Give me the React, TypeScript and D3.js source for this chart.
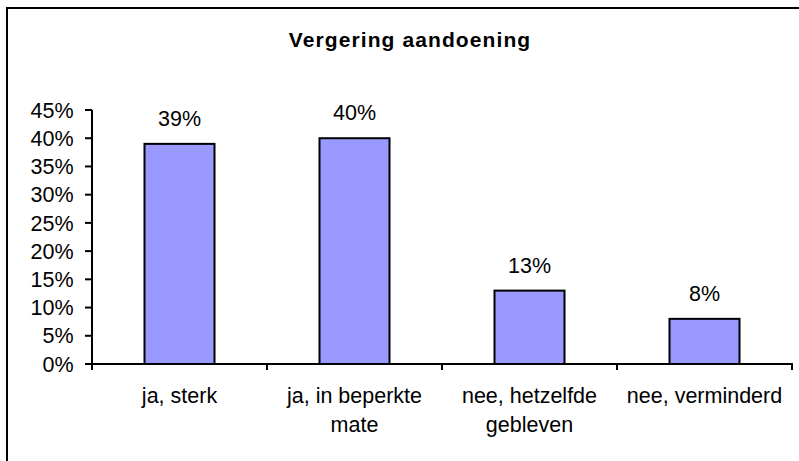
import React from "react";
import * as d3 from "d3";

const title = "Vergering aandoening";
const categories: string[][] = [
  ["ja, sterk"],
  ["ja, in beperkte", "mate"],
  ["nee, hetzelfde", "gebleven"],
  ["nee, verminderd"],
];
const values = [39, 40, 13, 8];
const yTicks = [0, 5, 10, 15, 20, 25, 30, 35, 40, 45];

const W = 799;
const H = 461;
const FONT = "'Liberation Sans', Arial, sans-serif";

export default function App() {
  const x = d3
    .scaleBand<number>()
    .domain(d3.range(categories.length))
    .range([92, 792])
    .paddingInner(0.6)
    .paddingOuter(0.3);
  const band = d3.scaleBand<number>().domain(d3.range(categories.length)).range([92, 792]);
  const y = d3.scaleLinear().domain([0, 45]).range([364, 110]);

  return (
    <svg
      width={W}
      height={H}
      style={{ position: "absolute", left: 0, top: 0, background: "#fff" }}
      fontFamily={FONT}
    >
      <rect x={0} y={0} width={W} height={H} fill="#fff" />
      <rect x={7} y={8} width={800} height={470} fill="none" stroke="#000" strokeWidth={2} />
      <text
        x={410}
        y={47}
        textAnchor="middle"
        fontSize={21}
        fontWeight="bold"
        letterSpacing={1.1}
        fill="#000"
      >
        {title}
      </text>

      {/* y axis */}
      <line x1={92} x2={92} y1={y(45)} y2={y(0)} stroke="#000" strokeWidth={2} />
      {yTicks.map((t) => (
        <g key={t}>
          <line x1={85} x2={92} y1={y(t)} y2={y(t)} stroke="#000" strokeWidth={2} />
          <text x={73.5} y={y(t) + 7.7} textAnchor="end" fontSize={21.5} fill="#000">
            {t}%
          </text>
        </g>
      ))}

      {/* bars */}
      {values.map((v, i) => (
        <g key={i}>
          <rect
            x={x(i)}
            y={y(v)}
            width={x.bandwidth()}
            height={y(0) - y(v)}
            fill="#9999FF"
            stroke="#000"
            strokeWidth={2}
          />
          <text
            x={(x(i) as number) + x.bandwidth() / 2}
            y={y(v) - 18}
            textAnchor="middle"
            fontSize={21.5}
            fill="#000"
          >
            {v}%
          </text>
        </g>
      ))}

      {/* x axis */}
      <line x1={91} x2={793} y1={364} y2={364} stroke="#000" strokeWidth={2} />
      {d3.range(categories.length + 1).map((i) => {
        const xx = i < categories.length ? (band(i) as number) : 792;
        return <line key={i} x1={xx} x2={xx} y1={364} y2={370} stroke="#000" strokeWidth={2} />;
      })}
      {categories.map((lines, i) => (
        <text
          key={i}
          x={(band(i) as number) + band.bandwidth() / 2}
          y={403}
          textAnchor="middle"
          fontSize={21.5}
          fill="#000"
        >
          {lines.map((l, j) => (
            <tspan key={j} x={(band(i) as number) + band.bandwidth() / 2} dy={j === 0 ? 0 : 29}>
              {l}
            </tspan>
          ))}
        </text>
      ))}
    </svg>
  );
}
